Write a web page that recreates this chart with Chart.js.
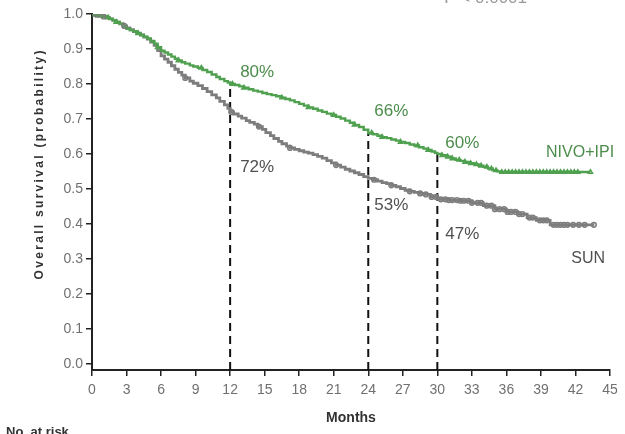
<!DOCTYPE html>
<html>
<head>
<meta charset="utf-8">
<script src="https://cdn.jsdelivr.net/npm/chart.js@4.4.1/dist/chart.umd.min.js"></script>
<style>
  html, body { margin: 0; padding: 0; background: #ffffff; }
  canvas { display: block; }
</style>
</head>
<body>
<canvas id="km" width="625" height="434"></canvas>
<script>
// Kaplan-Meier step points: month at which survival drops, and the new value
const nivoMonths = [0, 0.3, 0.6, 0.9, 1.2, 1.5, 1.8, 2.1, 2.4, 2.7, 3.0, 3.3, 3.6, 3.9, 4.2, 4.5, 4.8, 5.1, 5.4, 5.7,
  6.0, 6.3, 6.6, 6.9, 7.2, 7.5, 7.8, 8.1, 8.5, 8.8, 9.2, 9.6, 10.0, 10.4, 10.8, 11.1, 11.5, 11.8, 12.0,
  12.4, 12.8, 13.2, 13.6, 14.0, 14.4, 14.8, 15.2, 15.6, 16.0, 16.4, 16.8, 17.2, 17.6, 18.0, 18.4, 18.8,
  19.2, 19.6, 20.0, 20.4, 20.8, 21.2, 21.6, 22.0, 22.4, 22.8, 23.2, 23.6, 24.0,
  24.4, 24.8, 25.2, 25.6, 26.0, 26.4, 26.8, 27.2, 27.6, 28.0, 28.4, 28.8, 29.2, 29.5, 29.8, 30.0,
  30.4, 30.8, 31.2, 31.6, 32.0, 32.4, 32.8, 33.2, 33.6, 34.0, 34.4, 34.8, 35.2, 35.5, 43.3];
const nivoSurv = [1.0, 0.998, 0.995, 0.993, 0.99, 0.986, 0.982, 0.977, 0.972, 0.965, 0.958, 0.954, 0.950, 0.945, 0.940, 0.935, 0.930, 0.923, 0.915, 0.905,
  0.895, 0.890, 0.884, 0.878, 0.872, 0.867, 0.862, 0.858, 0.853, 0.850, 0.846, 0.840, 0.834, 0.827, 0.820, 0.814, 0.808, 0.804, 0.80,
  0.797, 0.793, 0.789, 0.785, 0.781, 0.778, 0.774, 0.771, 0.768, 0.765, 0.761, 0.757, 0.753, 0.748, 0.743, 0.738, 0.733,
  0.729, 0.724, 0.720, 0.715, 0.711, 0.706, 0.701, 0.695, 0.689, 0.683, 0.677, 0.669, 0.66,
  0.656, 0.652, 0.648, 0.645, 0.641, 0.638, 0.634, 0.631, 0.627, 0.624, 0.619, 0.615, 0.611, 0.607, 0.603, 0.60,
  0.596, 0.592, 0.587, 0.583, 0.580, 0.577, 0.573, 0.570, 0.566, 0.563, 0.558, 0.553, 0.550, 0.548, 0.548];

const sunMonths = [0, 0.3, 0.6, 0.9, 1.2, 1.5, 1.8, 2.1, 2.4, 2.7, 3.0, 3.3, 3.6, 3.9, 4.2, 4.5, 4.8, 5.1, 5.4, 5.7,
  6.0, 6.3, 6.6, 6.9, 7.2, 7.5, 7.8, 8.1, 8.5, 8.8, 9.2, 9.6, 10.0, 10.4, 10.8, 11.1, 11.5, 11.8, 12.0,
  12.3, 12.7, 13.0, 13.4, 13.7, 14.1, 14.4, 14.8, 15.1, 15.5, 15.8, 16.2, 16.5, 16.9, 17.2, 17.6, 18.0, 18.4, 18.8,
  19.2, 19.6, 20.0, 20.4, 20.8, 21.2, 21.6, 22.0, 22.4, 22.8, 23.2, 23.6, 24.0,
  24.4, 24.8, 25.2, 25.6, 26.0, 26.4, 26.8, 27.2, 27.6, 28.0, 28.4, 28.8, 29.4, 30.0,
  31.0, 32.0, 33.0, 34.0, 35.0, 36.0, 37.0, 37.8, 38.6, 39.8, 43.6];
const sunSurv = [1.0, 0.998, 0.995, 0.993, 0.99, 0.986, 0.982, 0.977, 0.972, 0.966, 0.960, 0.955, 0.950, 0.945, 0.940, 0.934, 0.928, 0.920, 0.910, 0.895,
  0.880, 0.871, 0.862, 0.852, 0.842, 0.833, 0.825, 0.817, 0.808, 0.802, 0.795, 0.787, 0.778, 0.769, 0.760, 0.750, 0.740, 0.730, 0.72,
  0.714, 0.708, 0.702, 0.695, 0.690, 0.685, 0.678, 0.670, 0.661, 0.652, 0.644, 0.636, 0.629, 0.622, 0.617, 0.613, 0.609, 0.605, 0.602,
  0.598, 0.593, 0.588, 0.581, 0.574, 0.568, 0.562, 0.556, 0.551, 0.546, 0.541, 0.535, 0.53,
  0.526, 0.522, 0.518, 0.515, 0.510, 0.506, 0.501, 0.496, 0.493, 0.490, 0.487, 0.484, 0.477, 0.47,
  0.468, 0.466, 0.460, 0.452, 0.442, 0.434, 0.428, 0.418, 0.410, 0.397, 0.397];

// Censoring times (tick marks on the curves)
const nivoCensor = [0.3, 0.8, 1.4, 2.1, 4.0, 5.7, 7.5, 9.5, 12.2, 13.2, 16.5, 18.8, 21.0, 22.8, 24.3, 25.2, 26.8, 28.3, 29.2,
  30.4, 30.9, 31.3, 31.9, 32.4, 32.9, 33.4, 33.8, 34.3, 34.7, 35.1, 35.6, 35.9, 36.2, 36.5, 36.8, 37.1, 37.4, 37.7, 38.0,
  38.3, 38.6, 38.9, 39.2, 39.5, 39.8, 40.1, 40.4, 40.7, 41.0, 41.3, 41.6, 41.9, 42.2, 43.3];
const sunCensor = [0.4, 1.0, 2.8, 8.1, 12.1, 14.5, 17.2, 21.2, 24.5, 26.0, 27.6, 28.5, 29.0, 29.5, 29.9, 30.3, 30.7, 31.0,
  31.3, 31.7, 32.0, 32.3, 32.7, 33.0, 33.5, 33.8, 34.3, 34.7, 35.0, 35.4, 35.8, 36.1, 36.4, 36.8, 37.1, 37.4, 38.0,
  38.3, 38.9, 39.2, 39.5, 40.1, 40.4, 40.7, 41.0, 41.3, 41.8, 42.3, 42.8, 43.6];

// Landmark months marked with dashed lines and percentages
const landmarkMonths = [12, 24, 30];

// Axis ticks
const xTicks = [0, 3, 6, 9, 12, 15, 18, 21, 24, 27, 30, 33, 36, 39, 42, 45];
const yTicks = [0.0, 0.1, 0.2, 0.3, 0.4, 0.5, 0.6, 0.7, 0.8, 0.9, 1.0];

const seriesNames = ['NIVO+IPI', 'SUN'];
const yTitle = 'Overall survival (probability)';
const xTitle = 'Months';
const pText = 'P < 0.0001';
const riskText = 'No. at risk';

// ---- styling / layout ----
const GREEN = '#4fa14f';
const GREEN_TXT = '#4b8c4b';
const GREY = '#7d7d7d';
const GREY_TXT = '#505050';
const Y_MIN = -0.018;
const FONT = "'Liberation Sans', Arial, sans-serif";
// pixel offsets of the percentage labels from their landmark point
const nivoLabelOffsets = [[10, -12], [6, -22], [8, -11]];
const sunLabelOffsets = [[10, 55], [6, 27], [8, 35]];
// series name anchors in data units (month, probability), centred
const nameAnchors = [[42.4, 0.6025], [43.1, 0.302]];

function stepValue(ts, ss, t) {
  let v = ss[0];
  for (let i = 0; i < ts.length; i++) { if (ts[i] <= t) v = ss[i]; }
  return v;
}
function toPoints(ts, ss) { return ts.map((t, i) => ({ x: t, y: ss[i] })); }
function censorPoints(cs, ts, ss) { return cs.map(t => ({ x: t, y: stepValue(ts, ss, t) })); }

const dashed = landmarkMonths.map(t => ({
  data: [{ x: t, y: Y_MIN }, { x: t, y: stepValue(nivoMonths, nivoSurv, t) }],
  showLine: true, borderColor: '#111111', borderWidth: 2, borderDash: [8, 5],
  pointRadius: 0, order: 10
}));

const annotate = {
  id: 'annotate',
  afterDraw(chart) {
    const ctx = chart.ctx;
    const xs = chart.scales.x, ys = chart.scales.y;
    ctx.save();
    ctx.textBaseline = 'middle';
    ctx.textAlign = 'left';

    // percentage labels at landmarks
    ctx.font = '17px ' + FONT;
    landmarkMonths.forEach((t, i) => {
      const vn = stepValue(nivoMonths, nivoSurv, t);
      const vs = stepValue(sunMonths, sunSurv, t);
      const px = xs.getPixelForValue(t);
      ctx.fillStyle = GREEN_TXT;
      ctx.fillText(Math.round(vn * 100) + '%', px + nivoLabelOffsets[i][0], ys.getPixelForValue(vn) + nivoLabelOffsets[i][1]);
      ctx.fillStyle = GREY_TXT;
      ctx.fillText(Math.round(vs * 100) + '%', px + sunLabelOffsets[i][0], ys.getPixelForValue(vs) + sunLabelOffsets[i][1]);
    });

    // series names
    ctx.textAlign = 'center';
    ctx.font = '16px ' + FONT;
    ctx.fillStyle = GREEN_TXT;
    ctx.fillText(seriesNames[0], xs.getPixelForValue(nameAnchors[0][0]), ys.getPixelForValue(nameAnchors[0][1]));
    ctx.fillStyle = GREY_TXT;
    ctx.fillText(seriesNames[1], xs.getPixelForValue(nameAnchors[1][0]), ys.getPixelForValue(nameAnchors[1][1]));

    // P value, running off the top edge
    ctx.textAlign = 'right';
    ctx.textBaseline = 'alphabetic';
    ctx.fillStyle = '#9a9a9a';
    ctx.font = '17px ' + FONT;
    ctx.fillText(pText, 527, 3);

    // number-at-risk heading, running off the bottom edge
    ctx.textAlign = 'left';
    ctx.textBaseline = 'top';
    ctx.fillStyle = '#333333';
    ctx.font = 'bold 13px ' + FONT;
    ctx.fillText(riskText, 6, 426);

    // spaced-out rotated y-axis title
    ctx.translate(40, 165);
    ctx.rotate(-Math.PI / 2);
    ctx.font = 'bold 12px ' + FONT;
    ctx.fillStyle = '#333333';
    ctx.textAlign = 'left';
    ctx.textBaseline = 'middle';
    const spacing = 2.3;
    const chars = Array.from(yTitle);
    let total = 0;
    chars.forEach(c => { total += ctx.measureText(c).width; });
    total += spacing * (chars.length - 1);
    let cx = -total / 2;
    chars.forEach(c => { ctx.fillText(c, cx, 0); cx += ctx.measureText(c).width + spacing; });
    ctx.restore();
  }
};

new Chart(document.getElementById('km'), {
  type: 'scatter',
  data: {
    datasets: [
      ...dashed,
      { label: seriesNames[1], data: toPoints(sunMonths, sunSurv), showLine: true, stepped: true,
        borderColor: GREY, borderWidth: 2.8, pointRadius: 0, order: 2 },
      { label: seriesNames[0], data: toPoints(nivoMonths, nivoSurv), showLine: true, stepped: true,
        borderColor: GREEN, borderWidth: 2.4, pointRadius: 0, order: 1 },
      { label: 'sun-censor', data: censorPoints(sunCensor, sunMonths, sunSurv), showLine: false,
        pointStyle: 'circle', pointRadius: 2.4, borderColor: GREY, borderWidth: 1.4,
        backgroundColor: 'rgba(125,125,125,0.35)', order: 0 },
      { label: 'nivo-censor', data: censorPoints(nivoCensor, nivoMonths, nivoSurv), showLine: false,
        pointStyle: 'triangle', pointRadius: 2.6, borderColor: GREEN, borderWidth: 1.3,
        backgroundColor: 'rgba(79,161,79,0.45)', order: 0 }
    ]
  },
  options: {
    responsive: false,
    animation: false,
    devicePixelRatio: 1,
    layout: { padding: { top: 14, right: 15, left: 0, bottom: 0 } },
    plugins: { legend: { display: false }, tooltip: { enabled: false } },
    scales: {
      x: {
        type: 'linear', min: 0, max: 45,
        afterFit(s) { s.height = 64; },
        afterBuildTicks(s) { s.ticks = xTicks.map(v => ({ value: v })); },
        ticks: { color: '#707070', font: { family: FONT, size: 14 }, padding: 6, maxRotation: 0, autoSkip: false },
        grid: { display: true, drawOnChartArea: false, drawTicks: true, tickLength: 6, color: '#222222', lineWidth: 1.5 },
        border: { display: true, color: '#222222', width: 2 },
        title: { display: true, text: xTitle, color: '#333333', font: { family: FONT, size: 14, weight: 'bold' }, padding: { top: 2, bottom: 7 } }
      },
      y: {
        type: 'linear', min: Y_MIN, max: 1.0,
        afterFit(s) { s.width = 92; },
        afterBuildTicks(s) { s.ticks = yTicks.map(v => ({ value: v })); },
        ticks: { color: '#707070', font: { family: FONT, size: 14 }, padding: 3, callback: v => Number(v).toFixed(1) },
        grid: { display: true, drawOnChartArea: false, drawTicks: true, tickLength: 6, color: '#222222', lineWidth: 1.5 },
        border: { display: true, color: '#222222', width: 2 }
      }
    }
  },
  plugins: [annotate]
});
</script>
</body>
</html>
